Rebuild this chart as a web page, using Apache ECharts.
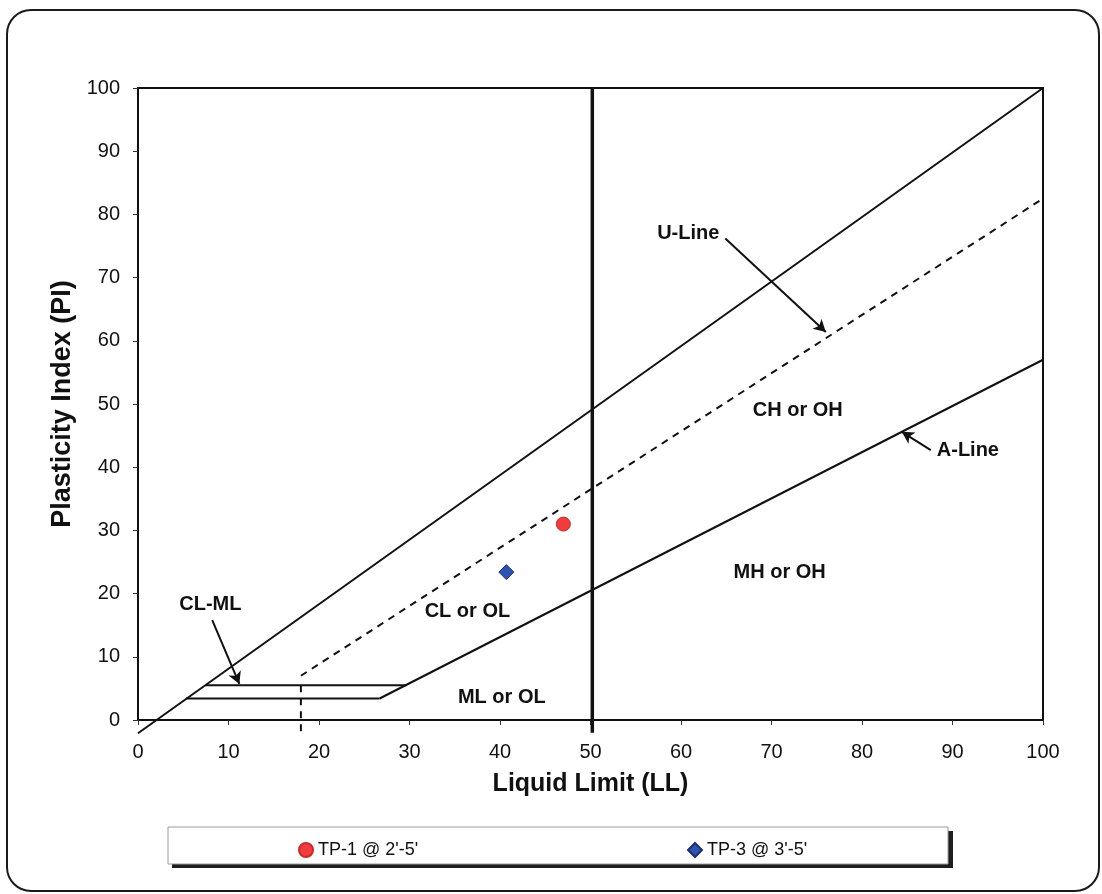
<!DOCTYPE html>
<html>
<head>
<meta charset="utf-8">
<script src="https://cdn.jsdelivr.net/npm/echarts@6/dist/echarts.min.js"></script>
<style>
  html, body { margin: 0; padding: 0; background: #ffffff; }
  #chart { width: 1102px; height: 894px; }
</style>
</head>
<body>
<div id="chart"></div>
<script>
// ---- data ----
const xTicks = [0, 10, 20, 30, 40, 50, 60, 70, 80, 90, 100];
const upperLine = [[0, -2.1], [100, 100]];
const uLine = [[18, 7], [100, 82.5]];
const uLineVertical = [[18, 5.5], [18, -2]];
const aLine = [[26.7, 3.4], [100, 57]];
const clmlUpper = [[7.4, 5.5], [29.7, 5.5]];
const clmlLower = [[5.3, 3.4], [26.7, 3.4]];
const ll50Line = [[50.2, -2], [50.2, 100]];
const tp1 = [[47.0, 31.0]];
const tp3 = [[40.7, 23.4]];
const zoneLabels = [
  { name: 'U-Line', value: [60.8, 77.0] },
  { name: 'A-Line', value: [91.7, 42.7] },
  { name: 'CL-ML', value: [8.0, 18.2] },
  { name: 'CH or OH', value: [72.9, 49.0] },
  { name: 'MH or OH', value: [70.9, 23.3] },
  { name: 'CL or OL', value: [36.4, 17.1] },
  { name: 'ML or OL', value: [40.2, 3.6] }
];
const arrows = [
  [[64.9, 76.2], [76.0, 61.4]],
  [[87.6, 42.7], [84.4, 45.6]],
  [[8.2, 15.8], [11.2, 5.7]]
];

const FONT = 'Liberation Sans, Arial, Helvetica, sans-serif';
const chart = echarts.init(document.getElementById('chart'), null, { renderer: 'canvas' });

function lineSeries(name, data, opts) {
  return Object.assign({
    name: name,
    type: 'line',
    data: data,
    symbol: 'none',
    clip: false,
    silent: true,
    lineStyle: { color: '#111', width: 2, type: 'solid' },
    z: 3
  }, opts || {});
}

const option = {
  backgroundColor: '#ffffff',
  animation: false,
  textStyle: { fontFamily: FONT },
  grid: {
    left: 138, right: 59, top: 88, bottom: 174,
    show: true, borderColor: '#111', borderWidth: 2, backgroundColor: 'transparent'
  },
  xAxis: {
    type: 'value', min: 0, max: 100, interval: 10,
    name: 'Liquid Limit (LL)', nameLocation: 'middle', nameGap: 52,
    nameTextStyle: { fontSize: 25, fontWeight: 'bold', color: '#111', fontFamily: FONT },
    axisLine: { show: true, lineStyle: { color: '#111', width: 2 } },
    axisTick: { show: true, inside: false, length: 5, lineStyle: { color: '#333', width: 1 } },
    axisLabel: { color: '#111', fontSize: 20, margin: 22, fontFamily: FONT,
      formatter: function (v) { return xTicks.indexOf(v) >= 0 ? String(v) : ''; } },
    splitLine: { show: false }
  },
  yAxis: {
    type: 'value', min: 0, max: 100, interval: 10,
    name: 'Plasticity Index (PI)', nameLocation: 'middle', nameGap: 58,
    nameTextStyle: { fontSize: 27, fontWeight: 'bold', color: '#111', fontFamily: FONT },
    axisLine: { show: true, lineStyle: { color: '#111', width: 2 } },
    axisTick: { show: true, inside: false, length: 5, lineStyle: { color: '#333', width: 1 } },
    axisLabel: { color: '#111', fontSize: 20, margin: 18, fontFamily: FONT },
    splitLine: { show: false }
  },
  legend: [
    {
      data: ['TP-1 @ 2\'-5\''], left: 293, top: 836, itemWidth: 14, itemHeight: 14, itemGap: 5,
      textStyle: { fontSize: 18, color: '#111', fontFamily: FONT }, selectedMode: false
    },
    {
      data: ['TP-3 @ 3\'-5\''], left: 682, top: 836, itemWidth: 14, itemHeight: 14, itemGap: 5,
      textStyle: { fontSize: 18, color: '#111', fontFamily: FONT }, selectedMode: false
    }
  ],
  graphic: [
    { type: 'rect', z: -10, shape: { x: 7, y: 10, width: 1092, height: 881, r: 24 },
      style: { fill: '#ffffff', stroke: '#1a1a1a', lineWidth: 2 } },
    { type: 'rect', z: -5, shape: { x: 172, y: 831, width: 781, height: 37 },
      style: { fill: '#1e1e1e' } },
    { type: 'rect', z: -4, shape: { x: 168, y: 827, width: 780, height: 37 },
      style: { fill: '#ffffff', stroke: '#9a9a9a', lineWidth: 1 } }
  ],
  series: [
    lineSeries('upper', upperLine),
    lineSeries('uline', uLine, { lineStyle: { color: '#111', width: 2, type: [7, 6] } }),
    lineSeries('ulineV', uLineVertical, { lineStyle: { color: '#111', width: 2, type: [7, 6] } }),
    lineSeries('aline', aLine),
    lineSeries('clmlU', clmlUpper),
    lineSeries('clmlL', clmlLower),
    lineSeries('ll50', ll50Line, { lineStyle: { color: '#111', width: 3.5 } }),
    {
      name: 'annotations', type: 'scatter', data: zoneLabels, symbolSize: 1,
      itemStyle: { color: 'rgba(0,0,0,0)', opacity: 1 }, silent: true, z: 5,
      label: { show: true, position: 'inside', formatter: '{b}', color: '#111',
        fontSize: 20, fontWeight: 'bold', fontFamily: FONT },
      markLine: {
        silent: true, symbol: ['none', 'arrow'], symbolSize: [10, 12],
        label: { show: false },
        lineStyle: { color: '#111', width: 2, type: 'solid', opacity: 1 },
        data: arrows.map(function (a) { return [{ coord: a[0] }, { coord: a[1] }]; })
      }
    },
    {
      name: 'TP-1 @ 2\'-5\'', type: 'scatter', data: tp1, symbol: 'circle', symbolSize: 14, z: 6,
      itemStyle: { color: '#f03c3c', borderColor: '#cc2a2a', borderWidth: 1, opacity: 1 }
    },
    {
      name: 'TP-3 @ 3\'-5\'', type: 'scatter', data: tp3, symbol: 'diamond', symbolSize: 15, z: 6,
      itemStyle: { color: '#2d52b0', borderColor: '#1b2f6e', borderWidth: 1, opacity: 1 }
    }
  ]
};
chart.setOption(option);
</script>
</body>
</html>
